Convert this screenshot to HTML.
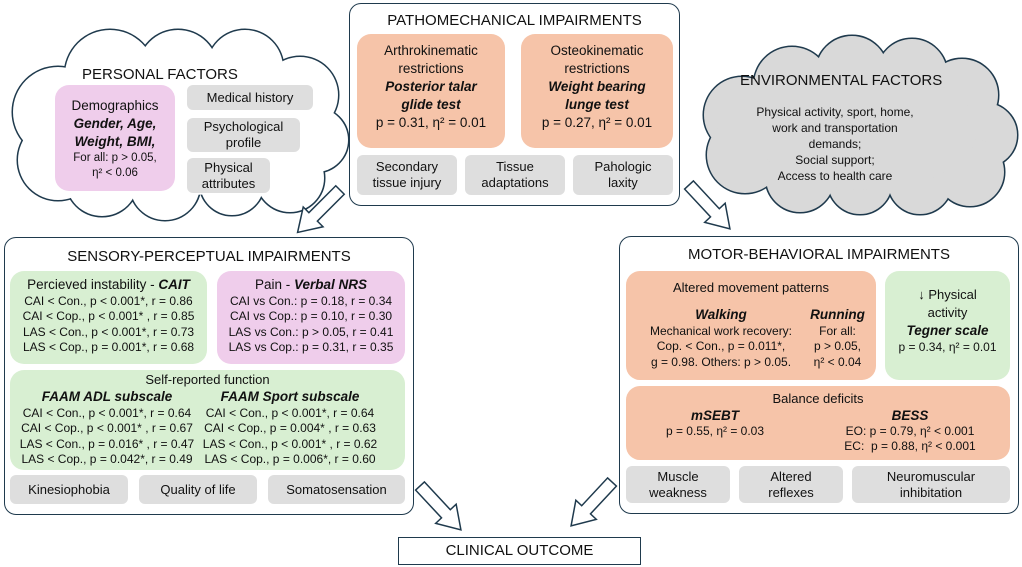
<!DOCTYPE html>
<html><head><meta charset="utf-8"><style>
body{margin:0;width:1022px;height:567px;background:#fff;position:relative;overflow:hidden;font-family:"Liberation Sans",sans-serif;color:#111}
.a{position:absolute;box-sizing:border-box;text-align:center}
.frame{border:1.5px solid #1f3a4d;border-radius:12px;background:#fff}
.t{font-size:15px;position:absolute;left:0;right:0;text-align:center}
.o{background:#f6c4a9;border-radius:14px}
.g{background:#d8efd2;border-radius:14px}
.p{background:#efcdeb;border-radius:14px}
.gr{background:#dedede;border-radius:6px;font-size:13px;display:flex;align-items:center;justify-content:center;line-height:16px}
b{font-style:italic}
.s{font-size:12px;line-height:15.4px}
</style></head><body>
<svg width="1022" height="567" style="position:absolute;left:0;top:0">
<g stroke="#1f3a4d" stroke-width="3" fill="#fff">
<circle cx="58" cy="112" r="45"/><circle cx="58" cy="160" r="40"/><circle cx="110" cy="75" r="45"/><circle cx="178" cy="70" r="40"/><circle cx="245" cy="68" r="38"/><circle cx="300" cy="95" r="38"/><circle cx="316" cy="140" r="32"/><circle cx="290" cy="178" r="34"/><circle cx="232" cy="183" r="32"/><circle cx="165" cy="185" r="35"/><circle cx="102" cy="180" r="36"/>
</g>
<g fill="#fff">
<circle cx="58" cy="112" r="45"/><circle cx="58" cy="160" r="40"/><circle cx="110" cy="75" r="45"/><circle cx="178" cy="70" r="40"/><circle cx="245" cy="68" r="38"/><circle cx="300" cy="95" r="38"/><circle cx="316" cy="140" r="32"/><circle cx="290" cy="178" r="34"/><circle cx="232" cy="183" r="32"/><circle cx="165" cy="185" r="35"/><circle cx="102" cy="180" r="36"/><ellipse cx="190" cy="130" rx="120" ry="65"/>
</g>
<g stroke="#1f3a4d" stroke-width="3" fill="#d9d9d9">
<circle cx="742" cy="115" r="38"/><circle cx="745" cy="155" r="38"/><circle cx="792" cy="85" r="38"/><circle cx="852" cy="72" r="36"/><circle cx="912" cy="74" r="35"/><circle cx="962" cy="95" r="36"/><circle cx="985" cy="135" r="32"/><circle cx="970" cy="172" r="34"/><circle cx="920" cy="182" r="32"/><circle cx="860" cy="182" r="32"/><circle cx="800" cy="178" r="34"/>
</g>
<g fill="#d9d9d9">
<circle cx="742" cy="115" r="38"/><circle cx="745" cy="155" r="38"/><circle cx="792" cy="85" r="38"/><circle cx="852" cy="72" r="36"/><circle cx="912" cy="74" r="35"/><circle cx="962" cy="95" r="36"/><circle cx="985" cy="135" r="32"/><circle cx="970" cy="172" r="34"/><circle cx="920" cy="182" r="32"/><circle cx="860" cy="182" r="32"/><circle cx="800" cy="178" r="34"/><ellipse cx="865" cy="130" rx="112" ry="60"/>
</g>
<g fill="#fff" stroke="#1f3a4d" stroke-width="1.5">
<polygon transform="translate(340,190) rotate(135)" points="0,-6 38,-6 38,-14 60,0 38,14 38,6 0,6"/>
<polygon transform="translate(689,185) rotate(47)" points="0,-6 38,-6 38,-14 60,0 38,14 38,6 0,6"/>
<polygon transform="translate(420,486) rotate(47)" points="0,-6 38,-6 38,-14 60,0 38,14 38,6 0,6"/>
<polygon transform="translate(612,482) rotate(133)" points="0,-6 38,-6 38,-14 60,0 38,14 38,6 0,6"/>
</g>
</svg>

<div class="a" style="left:82px;top:66px;font-size:15px;text-align:left">PERSONAL FACTORS</div>
<div class="a p" style="left:55px;top:85px;width:120px;height:106px;font-size:13.5px;line-height:18px;padding-top:12px">Demographics<br><b>Gender, Age,<br>Weight, BMI,</b><div style="font-size:11.5px;line-height:15px">For all: p &gt; 0.05,<br>η² &lt; 0.06</div></div>
<div class="a gr" style="left:187px;top:85px;width:126px;height:25px">Medical history</div>
<div class="a gr" style="left:187px;top:118px;width:113px;height:34px">Psychological<br>profile</div>
<div class="a gr" style="left:187px;top:158px;width:83px;height:35px">Physical<br>attributes</div>

<div class="a frame" style="left:349px;top:3px;width:331px;height:203px"><div class="t" style="top:8px">PATHOMECHANICAL IMPAIRMENTS</div></div>
<div class="a o" style="left:357px;top:34px;width:148px;height:114px;font-size:13.5px;line-height:18px;padding-top:8px">Arthrokinematic<br>restrictions<br><b>Posterior talar<br>glide test</b><br>p = 0.31, η² = 0.01</div>
<div class="a o" style="left:521px;top:34px;width:152px;height:114px;font-size:13.5px;line-height:18px;padding-top:8px">Osteokinematic<br>restrictions<br><b>Weight bearing<br>lunge test</b><br>p = 0.27, η² = 0.01</div>
<div class="a gr" style="left:357px;top:155px;width:100px;height:40px">Secondary<br>tissue injury</div>
<div class="a gr" style="left:465px;top:155px;width:100px;height:40px">Tissue<br>adaptations</div>
<div class="a gr" style="left:573px;top:155px;width:100px;height:40px">Pahologic<br>laxity</div>

<div class="a" style="left:740px;top:72px;font-size:15px;text-align:left">ENVIRONMENTAL FACTORS</div>
<div class="a" style="left:740px;top:104px;width:190px;font-size:12px;line-height:16px">Physical activity, sport, home,<br>work and transportation<br>demands;<br>Social support;<br>Access to health care</div>

<div class="a frame" style="left:4px;top:237px;width:410px;height:278px"><div class="t" style="top:10px">SENSORY-PERCEPTUAL IMPAIRMENTS</div></div>
<div class="a g s" style="left:10px;top:271px;width:197px;height:93px;padding-top:5px"><div style="font-size:13.5px;line-height:18px">Percieved instability - <b>CAIT</b></div>CAI &lt; Con., p &lt; 0.001*, r = 0.86<br>CAI &lt; Cop., p &lt; 0.001* , r = 0.85<br>LAS &lt; Con., p &lt; 0.001*, r = 0.73<br>LAS &lt; Cop., p = 0.001*, r = 0.68</div>
<div class="a p s" style="left:217px;top:271px;width:188px;height:93px;padding-top:5px"><div style="font-size:13.5px;line-height:18px">Pain - <b>Verbal NRS</b></div>CAI vs Con.: p = 0.18, r = 0.34<br>CAI vs Cop.: p = 0.10, r = 0.30<br>LAS vs Con.: p &gt; 0.05, r = 0.41<br>LAS vs Cop.: p = 0.31, r = 0.35</div>
<div class="a g" style="left:10px;top:370px;width:395px;height:100px"></div>
<div class="a" style="left:10px;top:372px;width:395px;font-size:13px">Self-reported function</div>
<div class="a s" style="left:12px;top:388px;width:190px"><div style="font-size:13.5px;line-height:18px"><b>FAAM ADL subscale</b></div>CAI &lt; Con., p &lt; 0.001*, r = 0.64<br>CAI &lt; Cop., p &lt; 0.001* , r = 0.67<br>LAS &lt; Con., p = 0.016* , r = 0.47<br>LAS &lt; Cop., p = 0.042*, r = 0.49</div>
<div class="a s" style="left:198px;top:388px;width:184px"><div style="font-size:13.5px;line-height:18px"><b>FAAM Sport subscale</b></div>CAI &lt; Con., p &lt; 0.001*, r = 0.64<br>CAI &lt; Cop., p = 0.004* , r = 0.63<br>LAS &lt; Con., p &lt; 0.001* , r = 0.62<br>LAS &lt; Cop., p = 0.006*, r = 0.60</div>
<div class="a gr" style="left:10px;top:475px;width:118px;height:29px">Kinesiophobia</div>
<div class="a gr" style="left:139px;top:475px;width:118px;height:29px">Quality of life</div>
<div class="a gr" style="left:268px;top:475px;width:137px;height:29px">Somatosensation</div>

<div class="a frame" style="left:619px;top:236px;width:400px;height:278px"><div class="t" style="top:9px">MOTOR-BEHAVIORAL IMPAIRMENTS</div></div>
<div class="a o" style="left:626px;top:271px;width:250px;height:109px"></div>
<div class="a" style="left:626px;top:280px;width:250px;font-size:13px">Altered movement patterns</div>
<div class="a s" style="left:634px;top:306px;width:174px"><div style="font-size:13.5px;line-height:18px"><b>Walking</b></div>Mechanical work recovery:<br>Cop. &lt; Con., p = 0.011*,<br>g = 0.98. Others: p &gt; 0.05.</div>
<div class="a s" style="left:805px;top:306px;width:65px"><div style="font-size:13.5px;line-height:18px"><b>Running</b></div>For all:<br>p &gt; 0.05,<br>η² &lt; 0.04</div>
<div class="a g" style="left:885px;top:271px;width:125px;height:109px;font-size:13px;line-height:18px;padding-top:15px">↓ Physical<br>activity<br><b style="font-size:13.5px">Tegner scale</b><div class="s">p = 0.34, η² = 0.01</div></div>
<div class="a o" style="left:626px;top:386px;width:384px;height:74px"></div>
<div class="a" style="left:626px;top:391px;width:384px;font-size:13px">Balance deficits</div>
<div class="a s" style="left:655px;top:407px;width:120px"><div style="font-size:13.5px;line-height:17px"><b>mSEBT</b></div>p = 0.55, η² = 0.03</div>
<div class="a s" style="left:835px;top:407px;width:150px"><div style="font-size:13.5px;line-height:17px"><b>BESS</b></div>EO: p = 0.79, η² &lt; 0.001<br>EC:&nbsp; p = 0.88, η² &lt; 0.001</div>
<div class="a gr" style="left:626px;top:466px;width:104px;height:37px">Muscle<br>weakness</div>
<div class="a gr" style="left:739px;top:466px;width:104px;height:37px">Altered<br>reflexes</div>
<div class="a gr" style="left:852px;top:466px;width:158px;height:37px">Neuromuscular<br>inhibitation</div>

<div class="a" style="left:398px;top:537px;width:243px;height:28px;border:1.5px solid #1f3a4d;background:#fff;font-size:15px;line-height:25px">CLINICAL OUTCOME</div>
</body></html>
